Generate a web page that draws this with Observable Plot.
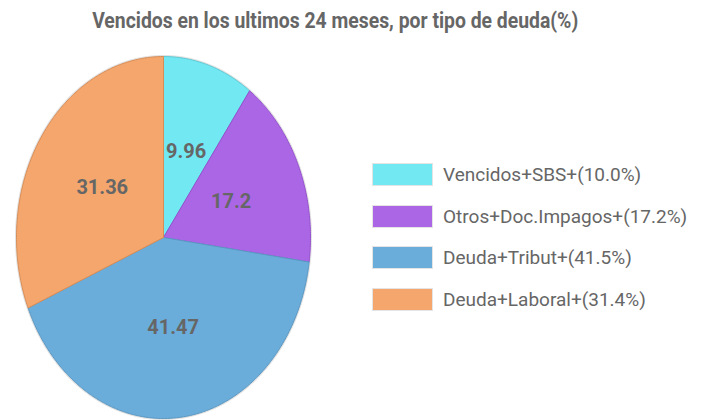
<!DOCTYPE html>
<html><head><meta charset="utf-8">
<script src="https://cdn.jsdelivr.net/npm/d3@7"></script>
<script src="https://cdn.jsdelivr.net/npm/@observablehq/plot@0.6"></script>
<style>
body{margin:0;background:#fff;}
#wrap{position:relative;width:706px;height:420px;overflow:hidden;font-family:"Roboto",sans-serif;}
#titlebox{height:40px;width:670px;display:flex;justify-content:center;align-items:flex-start;}
#title{display:inline-block;line-height:42px;white-space:nowrap;font-weight:bold;font-size:22px;color:#666;transform:scaleX(0.88);transform-origin:center;}
#legend{position:absolute;left:372px;top:163px;}
.row{display:flex;align-items:center;height:23px;margin-bottom:18.5px;}
.sw{width:59px;height:21px;border:1px solid #e4e4e4;box-sizing:content-box;margin-right:10px;}
.lab{font-size:19px;color:#666;font-family:"Roboto",sans-serif;}
</style></head>
<body><div id="wrap"><div id="titlebox"><div id="title"></div></div><div id="chart"></div><div id="legend"></div></div>
<script>
const titleText = "Vencidos en los ultimos 24 meses, por tipo de deuda(%)";
const categories = ["Vencidos+SBS", "Otros+Doc.Impagos", "Deuda+Tribut", "Deuda+Laboral"];
const values = [9.96, 17.2, 41.47, 31.36];
const colors = ["#72E8F3", "#AB66E6", "#6AADDA", "#F4A66D"];
const strokes = ["#5cc9d4", "#9450cc", "#5a97c2", "#d88c55"];

document.getElementById("title").textContent = titleText;

const total = d3.sum(values);
const slices = [];
const labels = [];
let acc = 0;
categories.forEach((c, i) => {
  const a0 = acc / total * 2 * Math.PI;
  acc += values[i];
  const a1 = acc / total * 2 * Math.PI;
  const n = Math.max(4, Math.ceil((a1 - a0) / 0.01));
  slices.push({cat: c, x: 0, y: 0});
  for (let k = 0; k <= n; k++) {
    const a = a0 + (a1 - a0) * k / n;
    slices.push({cat: c, x: Math.sin(a), y: Math.cos(a)});
  }
  slices.push({cat: c, x: 0, y: 0});
  const am = (a0 + a1) / 2;
  labels.push({cat: c, v: values[i], x: 0.5 * Math.sin(am), y: 0.5 * Math.cos(am)});
});

const outline = [];
for (let k = 0; k <= 720; k++) { const a = k / 720 * 2 * Math.PI; outline.push({x: Math.sin(a), y: Math.cos(a)}); }

const plot = Plot.plot({
  width: 706, height: 380,
  margin: 0,
  x: {domain: [-1, 1], range: [16, 310], axis: null},
  y: {domain: [-1, 1], range: [378, 16], axis: null},
  color: {domain: categories, range: colors},
  style: {background: "transparent"},
  marks: [
    Plot.line(outline, {x: "x", y: "y", stroke: "#cfcfcf", strokeWidth: 3, strokeOpacity: 0.6}),
    ...categories.map((c, i) => Plot.line(slices.filter(d => d.cat === c), {x: "x", y: "y", fill: colors[i], stroke: strokes[i], strokeWidth: 1, curve: "linear"})),
    Plot.text(labels, {x: "x", y: "y", text: d => String(d.v), fill: "#666", fontSize: 20, fontWeight: "bold", fontFamily: "Roboto, sans-serif"})
  ]
});
document.getElementById("chart").appendChild(plot);

const leg = document.getElementById("legend");
categories.forEach((c, i) => {
  const row = document.createElement("div"); row.className = "row";
  const sw = document.createElement("div"); sw.className = "sw"; sw.style.background = colors[i];
  const lab = document.createElement("span"); lab.className = "lab";
  lab.textContent = c + "+(" + (values[i] / total * 100).toFixed(1) + "%)";
  row.appendChild(sw); row.appendChild(lab); leg.appendChild(row);
});
</script></body></html>
